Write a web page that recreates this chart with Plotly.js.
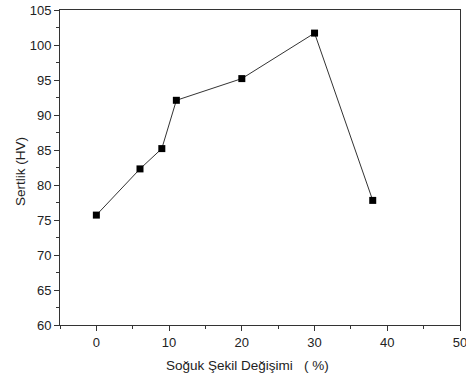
<!DOCTYPE html>
<html>
<head>
<meta charset="utf-8">
<script src="https://cdn.plot.ly/plotly-3.0.1.min.js"></script>
<style>html,body{margin:0;padding:0;background:#fff;}#chart{width:466px;height:379px;}</style>
</head>
<body>
<div id="chart"></div>
<script>
const deformation = [0, 6, 9, 11, 20, 30, 38];
const hardness = [75.7, 82.3, 85.2, 92.1, 95.2, 101.7, 77.8];
const xTicks = [0, 10, 20, 30, 40, 50];
const yTicks = [60, 65, 70, 75, 80, 85, 90, 95, 100, 105];
const xTitle = 'Soğuk Şekil Değişimi   ( %)';
const yTitle = 'Sertlik (HV)';

const tickFont = {family: 'Liberation Sans, Arial, sans-serif', size: 13, color: '#222'};
const titleFont = {family: 'Liberation Sans, Arial, sans-serif', size: 13.5, color: '#222'};
const trace = {
  x: deformation, y: hardness, type: 'scatter', mode: 'lines+markers',
  line: {color: '#333', width: 1},
  marker: {symbol: 'square', size: 7, color: '#000'},
  cliponaxis: false
};
const axisCommon = {
  showgrid: false, zeroline: false, showline: true, linecolor: '#333', linewidth: 1,
  mirror: true, ticks: 'outside', ticklen: 5, tickwidth: 1, tickcolor: '#333',
  tickfont: tickFont, ticklabeloverflow: 'allow'
};
const layout = {
  width: 466, height: 379,
  margin: {l: 60, r: 6, t: 10, b: 54},
  paper_bgcolor: '#fff', plot_bgcolor: '#fff',
  showlegend: false,
  font: tickFont,
  xaxis: Object.assign({}, axisCommon, {
    range: [-5, 50], tickvals: xTicks,
    minor: {dtick: 5, tick0: 0, ticks: 'outside', ticklen: 3, tickcolor: '#333'}
  }),
  yaxis: Object.assign({}, axisCommon, {
    range: [60, 105], tickvals: yTicks,
    minor: {dtick: 2.5, tick0: 60, ticks: 'outside', ticklen: 3, tickcolor: '#333'}
  }),
  annotations: [
    {text: xTitle, xref: 'paper', yref: 'paper', x: 0.4675, y: -0.127,
     xanchor: 'center', yanchor: 'middle', showarrow: false, font: titleFont},
    {text: yTitle, xref: 'paper', yref: 'paper', x: -0.0975, y: 0.486, textangle: -90,
     xanchor: 'center', yanchor: 'middle', showarrow: false, font: titleFont}
  ]
};
Plotly.newPlot('chart', [trace], layout, {displayModeBar: false, staticPlot: true});
</script>
</body>
</html>
